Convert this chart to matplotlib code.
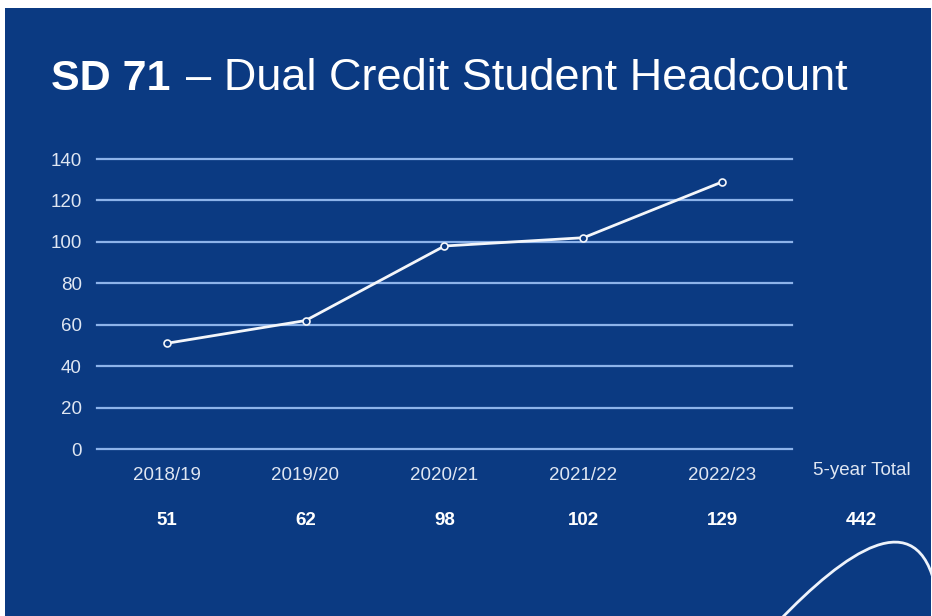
import numpy as np
import matplotlib.pyplot as plt
from matplotlib.path import Path
from matplotlib.patches import PathPatch, Rectangle

# data
years = ["2018/19", "2019/20", "2020/21", "2021/22", "2022/23"]
headcount = [51, 62, 98, 102, 129]
total_label = "5-year Total"
total_value = 442

BG = "#0b3a82"
GRID = "#8db3ea"
TXT = "#dfe6f2"
FS = 13.5

plt.rcParams['font.family'] = ['Liberation Sans', 'DejaVu Sans']

W, H = 932, 616
fig = plt.figure(figsize=(W / 100, H / 100), dpi=100)
fig.patch.set_facecolor("white")

def px(x, y):
	# pixel -> figure fraction
	return x / W, 1 - y / H

# blue slide background
x0, y0 = px(5, 616)
fig.add_artist(Rectangle((x0, y0), (931 - 5) / W, (616 - 8) / H,
	transform=fig.transFigure, facecolor=BG, edgecolor="none", zorder=0))

# title
fig.text(*px(51, 90), "SD 71", fontsize=31, fontweight="bold", color="white", va="baseline")
fig.text(*px(186, 90), "– Dual Credit Student Headcount", fontsize=32.5, color="white", va="baseline")

# axes
l, b = px(97, 449)
r, t = px(792, 159)
ax = fig.add_axes([l, b, r - l, t - b])
ax.set_facecolor("none")
xs = np.arange(len(years))
ax.set_xlim(-0.5, len(years) - 0.5)
ax.set_ylim(0, 140)
ax.set_yticks(range(0, 141, 20))
for v in range(0, 141, 20):
	ax.axhline(v, color=GRID, lw=1.6, zorder=1, clip_on=False)
for s in ax.spines.values():
	s.set_visible(False)
ax.tick_params(length=0, colors=TXT, labelsize=FS)
ax.tick_params(axis="y", pad=11)
ax.set_xticks(xs)
ax.set_xticklabels(years)
ax.tick_params(axis="x", pad=13)

ax.plot(xs, headcount, color="#f4f6fa", lw=2, marker="o", ms=5,
	mfc=BG, mec="#f4f6fa", mew=1.2, zorder=3, clip_on=False)

# totals row
ax.text(len(years), -0.075, total_label, transform=ax.get_xaxis_transform(),
	ha="center", va="center", color=TXT, fontsize=FS)
for i, v in enumerate(headcount):
	ax.text(i, -0.245, str(v), transform=ax.get_xaxis_transform(),
		ha="center", va="center", color="white", fontsize=FS, fontweight="bold")
ax.text(len(years), -0.245, str(total_value), transform=ax.get_xaxis_transform(),
	ha="center", va="center", color="white", fontsize=FS, fontweight="bold")

# decorative curve bottom right
verts = [px(778, 622), px(845, 552), px(918, 500), px(936, 590)]
path = Path(verts, [Path.MOVETO, Path.CURVE4, Path.CURVE4, Path.CURVE4])
fig.add_artist(PathPatch(path, transform=fig.transFigure, facecolor="none",
	edgecolor="#eef3fb", lw=2, zorder=2))

fig.savefig("out.png", dpi=100, facecolor=fig.get_facecolor())
